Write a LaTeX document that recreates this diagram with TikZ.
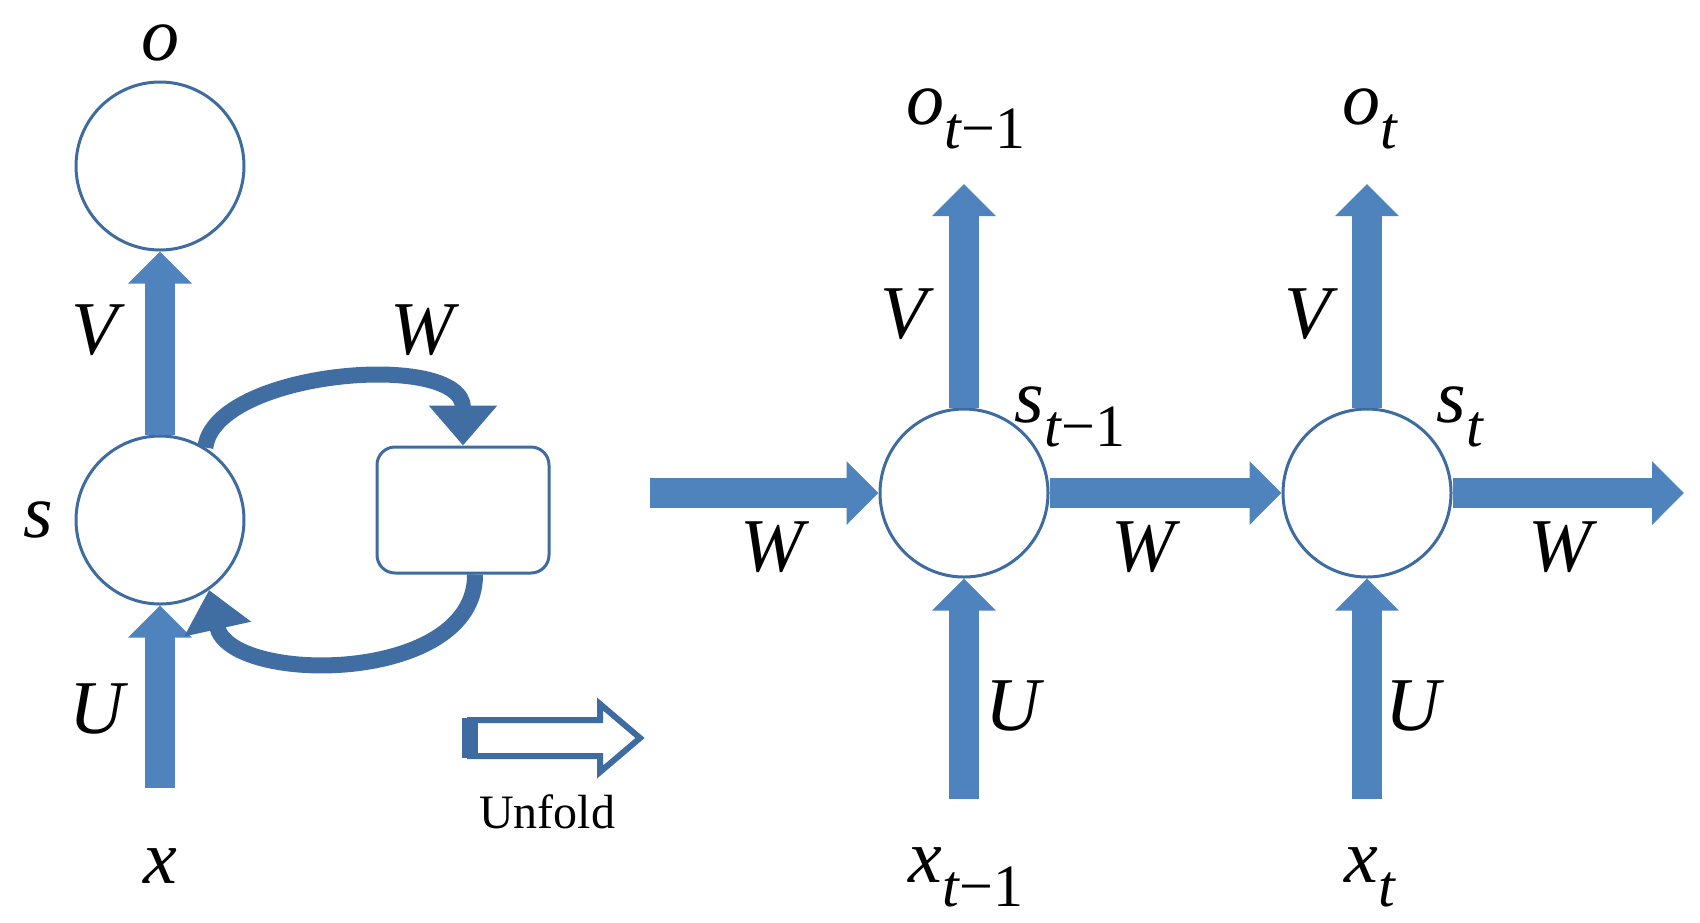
\documentclass[tikz,border=0pt]{standalone}
\usepackage{fontspec}
\setmainfont{Liberation Serif}
\usetikzlibrary{arrows.meta}
\definecolor{rb}{RGB}{79,131,189}
\definecolor{rd}{RGB}{62,108,160}
\newcommand\lbl[2]{#1\raisebox{-0.32em}{\fontsize{30}{30}\selectfont #2}}
\begin{document}
\begin{tikzpicture}[x=0.5pt,y=-0.5pt,
  cell/.style={circle,draw=rd,line width=1.5pt,fill=white,minimum size=84pt,inner sep=0},
  big/.style={draw=rb,line width=15pt,-{Triangle[width=31pt,length=16pt]}},
  curv/.style={draw=rd!90!rb,line width=8pt,-{Triangle[width=33pt,length=20pt]}},
  lab/.style={font=\fontsize{38}{38}\selectfont\itshape,inner sep=0}]
\useasboundingbox (0,0) rectangle (1700,922);
% left folded network
\node[cell] (o) at (160,166) {};
\node[cell] (s) at (160,520) {};
\node[draw=rd,line width=1.5pt,rounded corners=9pt,minimum width=86pt,minimum height=63pt,inner sep=0] (box) at (463,510) {};
\coordinate (xin) at (160,788);
\draw[big] (s.north) -- (o.south);
\draw[big] (xin) -- (s.south);
\draw[curv] (s.58) .. controls (215,370) and (463,350) .. (box.north);
\draw[curv] ([xshift=6pt]box.south) .. controls (476,685) and (230,685) .. (s.-55);
% unfold arrow
\draw[rd,line width=3pt,fill=white,line join=miter] (470,720) -- (600,720) -- (600,704) -- (640,738) -- (600,772) -- (600,756) -- (470,756) -- cycle;
\fill[rd] (462,718) rectangle (478,758);
\node[font=\fontsize{24}{24}\selectfont,inner sep=0] (unf) at (547,812) {Unfold};
% unfolded
\node[cell] (s1) at (964,493) {};
\node[cell] (s2) at (1367,493) {};
\coordinate (win) at (650,493);
\coordinate (wout) at (1684,493);
\coordinate (o1) at (964,184);
\coordinate (o2) at (1367,184);
\coordinate (x1) at (964,799);
\coordinate (x2) at (1367,799);
\draw[big] (win) -- (s1.west);
\draw[big] (s1.east) -- (s2.west);
\draw[big] (s2.east) -- (wout);
\draw[big] (s1.north) -- (o1);
\draw[big] (s2.north) -- (o2);
\draw[big] (x1) -- (s1.south);
\draw[big] (x2) -- (s2.south);
% labels
\node[lab] (lo) at (160,43) {o};
\node[lab] (lV) at (95,330) {V};
\node[lab] (lW) at (422,330) {W};
\node[lab] (ls) at (38,520) {s};
\node[lab] (lU) at (97,709) {U};
\node[lab] (lx) at (160,866) {x};
\node[lab] (lo1) at (966,119) {\lbl{o}{t\upshape −1}};
\node[lab] (lo2) at (1370,119) {\lbl{o}{t}};
\node[lab] (lV1) at (904,314) {V};
\node[lab] (lV2) at (1308,314) {V};
\node[lab] (ls1) at (1070,417) {\lbl{s}{t\upshape −1}};
\node[lab] (ls2) at (1460,417) {\lbl{s}{t}};
\node[lab] (lW1) at (772,547) {W};
\node[lab] (lW2) at (1143,547) {W};
\node[lab] (lW3) at (1560,547) {W};
\node[lab] (lU1) at (1013,706) {U};
\node[lab] (lU2) at (1413,706) {U};
\node[lab] (lx1) at (966,877) {\lbl{x}{t\upshape −1}};
\node[lab] (lx2) at (1370,877) {\lbl{x}{t}};
\end{tikzpicture}
\end{document}
